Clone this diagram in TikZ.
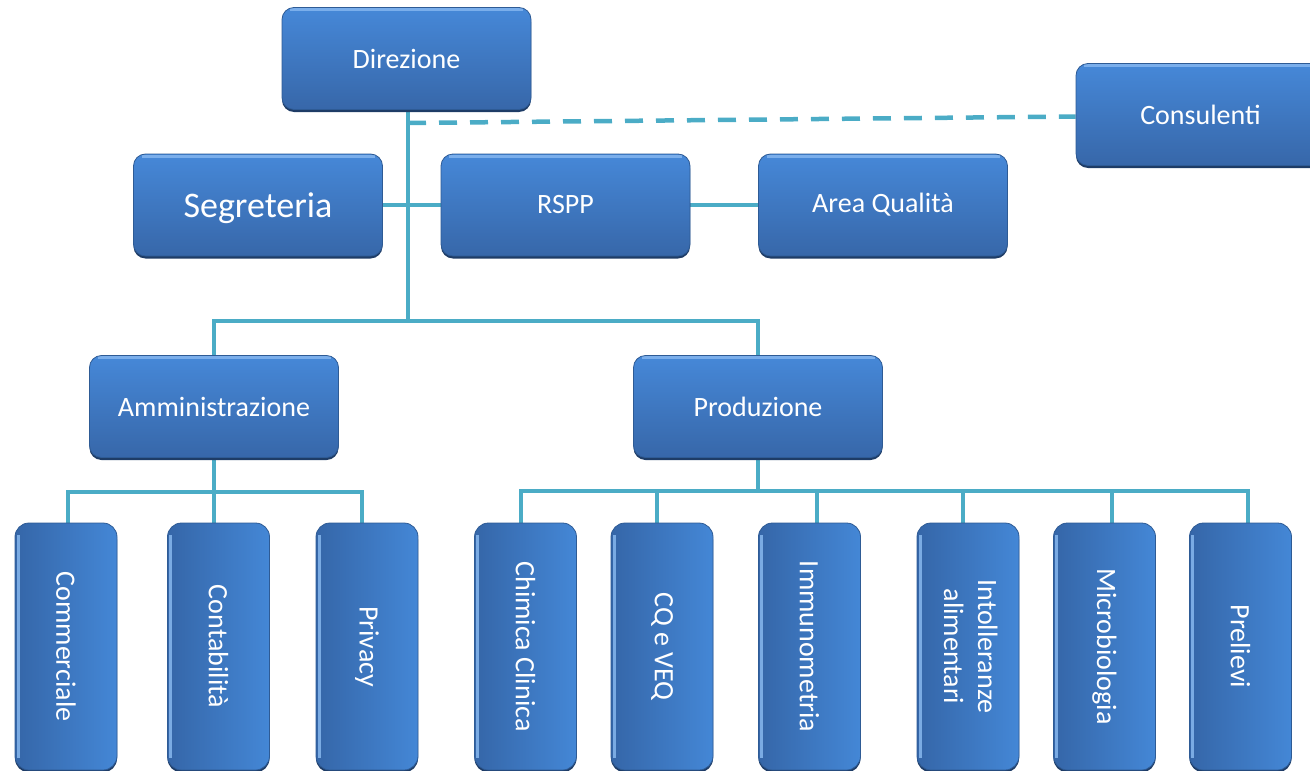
\documentclass[tikz,border=0pt]{standalone}
\usepackage{fontspec}
\setmainfont{Carlito}
\usepackage{graphicx}
\usetikzlibrary{shadows}
\definecolor{btop}{HTML}{4688D8}
\definecolor{bmid}{HTML}{3F7BCC}
\definecolor{bbot}{HTML}{3767A9}
\definecolor{vleft}{HTML}{3566A8}
\definecolor{vmid}{HTML}{3B74C2}
\definecolor{vright}{HTML}{4487D6}
\definecolor{boxline}{HTML}{2E5B95}
\definecolor{bshadow}{HTML}{1E3C66}
\definecolor{hilite}{HTML}{8CBCF2}
\definecolor{conn}{HTML}{4BACC6}
\pgfdeclarelayer{bg}
\pgfsetlayers{bg,main}
\begin{document}
\begin{tikzpicture}[x=1pt,y=-1pt,
  boxbase/.style={inner sep=0pt, draw=boxline, line width=0.8pt, text=white,
    font=\fontsize{28}{34}\selectfont,
    drop shadow={shadow xshift=0pt, shadow yshift=-2.5pt, fill=bshadow, opacity=1}},
  hbox/.style={boxbase, rounded corners=12pt, minimum width=249pt, minimum height=102pt,
    top color=btop, middle color=bmid, bottom color=bbot,
    path picture={\draw[hilite, opacity=0.75, line width=3pt]
      ([xshift=8pt,yshift=-2pt]path picture bounding box.north west) --
      ([xshift=-8pt,yshift=-2pt]path picture bounding box.north east);}},
  vbox/.style={boxbase, rounded corners=14pt, minimum width=102pt, minimum height=247pt,
    left color=vleft, middle color=vmid, right color=vright,
    path picture={\draw[hilite, opacity=0.8, line width=3pt]
      ([xshift=3pt,yshift=-12pt]path picture bounding box.north west) --
      ([xshift=3pt,yshift=12pt]path picture bounding box.south west);}},
  link/.style={conn, line width=4pt},
  dlink/.style={conn, line width=4.5pt, dash pattern=on 18pt off 13pt}
]
\useasboundingbox (0,0) rectangle (1310,771);
\clip (0,0) rectangle (1310,771);

% top level
\node[hbox] (dir) at (406.5,58.5) {Direzione};
\node[hbox] (cons) at (1200.5,114.5) {Consulenti};
\node[hbox, font=\fontsize{36}{40}\selectfont, text height=31pt, text depth=7pt] (seg) at (258,205) {Segreteria};
\node[hbox] (rspp) at (565.5,205) {RSPP};
\node[hbox] (aq) at (883,205) {Area Qualità};
\node[hbox] (amm) at (214,406.5) {Amministrazione};
\node[hbox] (prod) at (758,406.5) {Produzione};

% bottom level
\node[vbox] (comm) at (66,646.5) {\rotatebox{-90}{Commerciale}};
\node[vbox] (cont) at (218.5,646.5) {\rotatebox{-90}{Contabilità}};
\node[vbox] (priv) at (367,646.5) {\rotatebox{-90}{Privacy}};
\node[vbox] (chim) at (525.5,646.5) {\rotatebox{-90}{Chimica Clinica}};
\node[vbox] (cq) at (662,646.5) {\rotatebox{-90}{CQ e VEQ}};
\node[vbox] (imm) at (809.5,646.5) {\rotatebox{-90}{Immunometria}};
\node[vbox] (intol) at (968,646.5) {\rotatebox{-90}{\begin{tabular}{@{}c@{}}Intolleranze\\alimentari\end{tabular}}};
\node[vbox] (micro) at (1104.5,646.5) {\rotatebox{-90}{Microbiologia}};
\node[vbox] (prel) at (1240.5,646.5) {\rotatebox{-90}{Prelievi}};

\coordinate (dj) at (408,123);

\begin{pgfonlayer}{bg}
  % trunk
  \draw[link] ([xshift=1.5pt]dir.south) -- ([xshift=1.5pt]dir.south |- 0,322);
  \draw[link] (amm.north) -- ++(0,-34) -| (prod.north);
  \draw[link] (seg.east) -- (rspp.west);
  \draw[link] (rspp.east) -- (aq.west);
  \draw[dlink] (dj) -- ([yshift=-2pt]cons.west);
  % Amministrazione branch
  \draw[link] (amm.south) -- (amm.south |- cont.north);
  \draw[link] ([xshift=2pt]comm.north) -- ++(0,-31) -| ([xshift=-5pt]priv.north);
  % Produzione branch
  \draw[link] (prod.south) -- ++(0,34);
  \draw[link] ([xshift=-5pt]chim.north) -- ++(0,-32) -| ([xshift=7pt]prel.north);
  \draw[link] ([xshift=-5pt]cq.north) -- ++(0,-32);
  \draw[link] ([xshift=7pt]imm.north) -- ++(0,-32);
  \draw[link] ([xshift=-5pt]intol.north) -- ++(0,-32);
  \draw[link] ([xshift=7pt]micro.north) -- ++(0,-32);
\end{pgfonlayer}
\end{tikzpicture}
\end{document}
